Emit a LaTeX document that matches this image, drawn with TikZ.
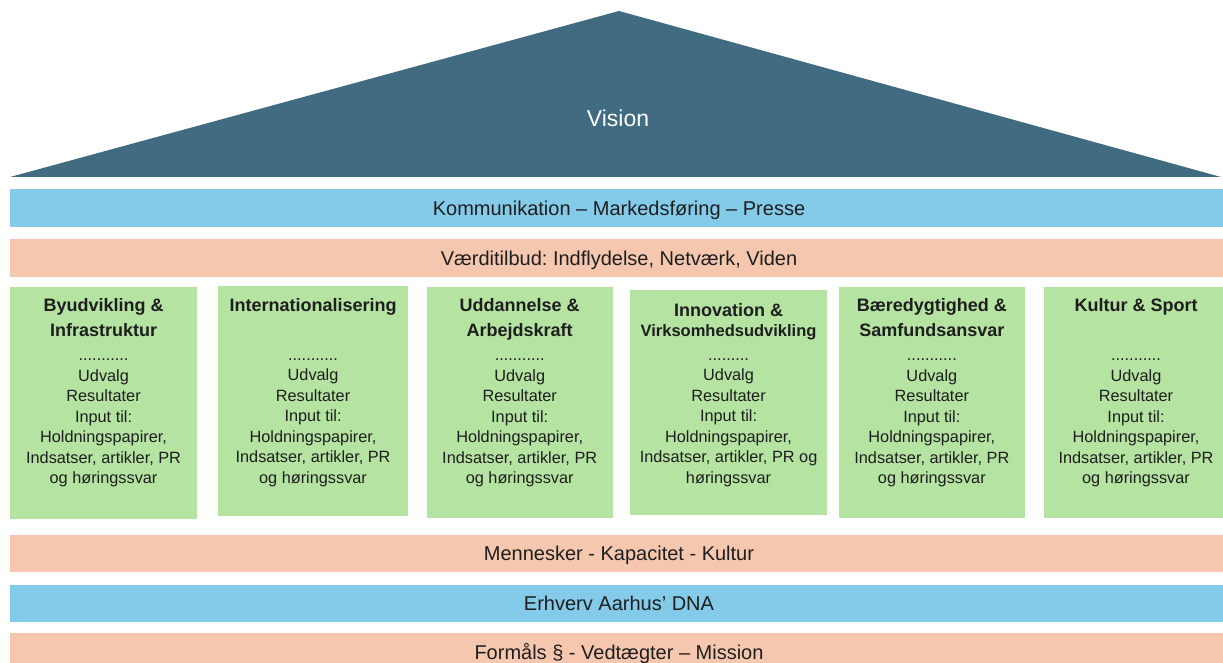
\documentclass[tikz,border=0pt]{standalone}
\usepackage{fontspec}
\setmainfont{Liberation Sans}
\usepackage{tikz}
\usetikzlibrary{positioning}
\frenchspacing

\definecolor{roofblue}{HTML}{406B80}
\definecolor{skyblue}{HTML}{84CBEA}
\definecolor{peach}{HTML}{F5C7AE}
\definecolor{leaf}{HTML}{B5E3A1}
\definecolor{ink}{HTML}{1E1E1E}

\begin{document}
\begin{tikzpicture}[x=1pt, y=-1pt]

\tikzstyle{band} = [rectangle, inner sep=0pt, minimum width=1218pt, minimum height=37.5pt, text=ink, text height=14pt, text depth=0pt, font=\fontsize{20}{22}\selectfont]
\tikzstyle{pillar} = [rectangle, fill=leaf, anchor=north west, inner sep=0pt, minimum height=231pt]
\tikzstyle{head} = [anchor=north, align=center, inner sep=0pt, text=ink, font=\bfseries\fontsize{18}{25}\selectfont]
\tikzstyle{body} = [anchor=north, align=center, inner sep=0pt, text=ink, font=\fontsize{16.3}{20.5}\selectfont]

\useasboundingbox (0,0) rectangle (1223,663);

%roof
\coordinate (eaveL) at (10,177);
\coordinate (ridge) at (619,11);
\coordinate (eaveR) at (1221,177);
\fill [roofblue] (eaveL) -- (ridge) -- (eaveR) -- cycle;
\node [anchor=base, text=white, font=\fontsize{23}{26}\selectfont] (vision) at (618,126.7) {Vision};

%bands
\node [band, fill=skyblue] (komm) at (619,208) {Kommunikation – Markedsføring – Presse};
\node [band, fill=peach] (vaerdi) at (619,258) {Værditilbud: Indflydelse, Netværk, Viden};
\node [band, fill=peach] (mennesker) at (619,553.5) {Mennesker - Kapacitet - Kultur};
\node [band, fill=skyblue] (dna) at (619,603.5) {Erhverv Aarhus’ DNA};
\node [band, fill=peach] (formaal) at (619,652) {Formåls § - Vedtægter – Mission};

%pillars
\node [pillar, minimum width=186.7pt, minimum height=232.3pt] (byudv) at (10,286.7) {};
\node [pillar, minimum width=190.3pt, minimum height=230pt] (intl) at (217.7,285.7) {};
\node [pillar, minimum width=185.6pt] (udd) at (426.7,286.7) {};
\node [pillar, minimum width=196.7pt, minimum height=225.7pt] (innov) at (630,289.3) {};
\node [pillar, minimum width=185.3pt] (baer) at (839,286.7) {};
\node [pillar, minimum width=185pt] (kultur) at (1043.3,286.7) {};

%headings
\node [head] (byudvHead) at (byudv.north |- 0,294.2) {\strut Byudvikling \&\\Infrastruktur};
\node [head] (intlHead) at (intl.north |- 0,294.2) {\strut Internationalisering};
\node [head] (uddHead) at (udd.north |- 0,294.2) {\strut Uddannelse \&\\Arbejdskraft};
\node [head, font=\bfseries\fontsize{18}{20.7}\selectfont] (innovHead) at (innov.north |- 0,301.5) {\strut Innovation \&\\{\fontsize{16.5}{20.7}\selectfont Virksomhedsudvikling}};
\node [head] (baerHead) at (baer.north |- 0,294.2) {\strut Bæredygtighed \&\\Samfundsansvar};
\node [head] (kulturHead) at (kultur.north |- 0,294.2) {\strut Kultur \& Sport};

%contents
\node [body] (byudvBody) at (byudv.north |- 0,346) {\strut...........\\Udvalg\\Resultater\\Input til:\\Holdningspapirer,\\Indsatser, artikler, PR\\og høringssvar};
\node [body] (intlBody) at (intl.north |- 0,345.5) {\strut...........\\Udvalg\\Resultater\\Input til:\\Holdningspapirer,\\Indsatser, artikler, PR\\og høringssvar};
\node [body] (uddBody) at (udd.north |- 0,346) {\strut...........\\Udvalg\\Resultater\\Input til:\\Holdningspapirer,\\Indsatser, artikler, PR\\og høringssvar};
\node [body] (innovBody) at (innov.north |- 0,345.5) {\strut.........\\Udvalg\\Resultater\\Input til:\\Holdningspapirer,\\Indsatser, artikler, PR og\\høringssvar};
\node [body] (baerBody) at (baer.north |- 0,346) {\strut...........\\Udvalg\\Resultater\\Input til:\\Holdningspapirer,\\Indsatser, artikler, PR\\og høringssvar};
\node [body] (kulturBody) at (kultur.north |- 0,346) {\strut...........\\Udvalg\\Resultater\\Input til:\\Holdningspapirer,\\Indsatser, artikler, PR\\og høringssvar};

\end{tikzpicture}
\end{document}
